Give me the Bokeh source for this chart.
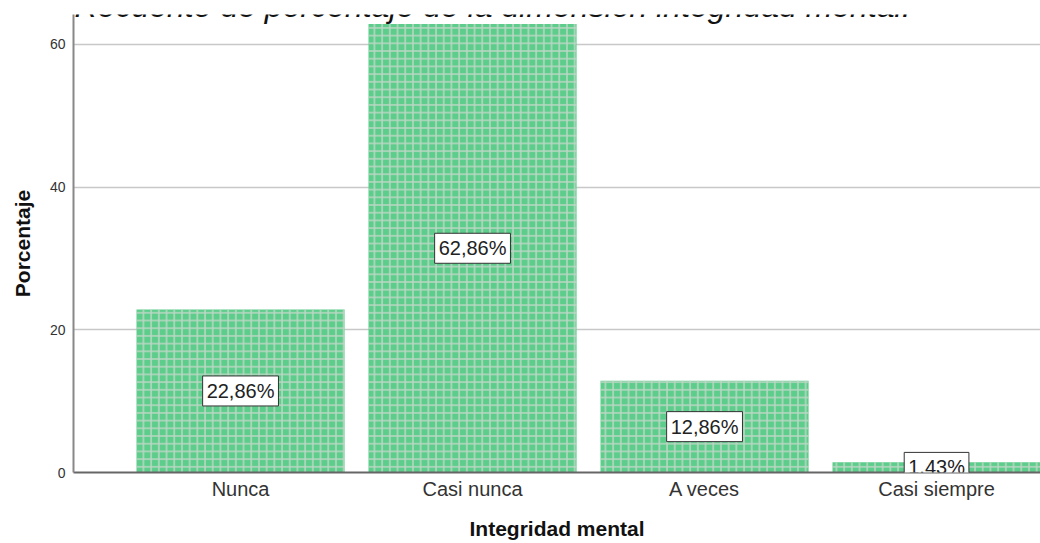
from bokeh.plotting import figure
from bokeh.models import ColumnDataSource, Range1d, FixedTicker, Label
from bokeh.embed import file_html
from bokeh.resources import INLINE

categories = ["Nunca", "Casi nunca", "A veces", "Casi siempre"]
percentages = [22.86, 62.86, 12.86, 1.43]
value_labels = ["22,86%", "62,86%", "12,86%", "1,43%"]
y_ticks = [0, 20, 40, 60]
title_text = "Recuento de porcentaje de la dimensión integridad mental."

FONT = "Liberation Sans"

xs = list(range(len(categories)))
src = ColumnDataSource(dict(x=xs, top=percentages))

p = figure(width=1040, height=543, output_backend="svg", toolbar_location=None,
           x_range=Range1d(-0.72, 3.448), y_range=Range1d(0, 64.2),
           min_border_left=73, min_border_right=0, min_border_top=14, min_border_bottom=71)
p.outline_line_color = None
p.background_fill_color = "white"

p.vbar(x="x", top="top", width=0.897, source=src,
       fill_color="#5dcd8b", line_color=None,
       hatch_pattern="+", hatch_color="#cdd8cf", hatch_scale=7.7, hatch_weight=1.5,
       hatch_alpha=0.85)

for xv, v, lab in zip(xs, percentages, value_labels):
    p.add_layout(Label(x=xv, y=v / 2, text=lab, text_align="center", text_baseline="middle",
                       text_font=FONT, text_font_size="20px", text_color="#222222",
                       background_fill_color="white", border_line_color="#333333",
                       border_line_width=1, padding=4))

p.add_layout(Label(x=74, y=5, x_units="canvas", y_units="canvas", text=title_text,
                   text_font=FONT, text_font_size="32px", text_font_style="italic",
                   text_color="#111111", text_baseline="alphabetic", level="overlay"))

p.xaxis.ticker = FixedTicker(ticks=xs)
p.xaxis.major_label_overrides = {i: c for i, c in zip(xs, categories)}
p.xaxis.major_label_text_font = FONT
p.xaxis.major_label_text_font_size = "20px"
p.xaxis.major_label_text_color = "#333333"
p.xaxis.major_tick_line_color = None
p.xaxis.major_tick_out = 0
p.xaxis.major_tick_in = 0
p.xaxis.minor_tick_line_color = None
p.xaxis.axis_line_color = "#666666"
p.xaxis.axis_line_width = 2
p.xaxis.axis_label = "Integridad mental"
p.xaxis.axis_label_text_font = FONT
p.xaxis.axis_label_text_font_style = "bold"
p.xaxis.axis_label_text_font_size = "21px"
p.xaxis.axis_label_text_color = "#111111"
p.xaxis.axis_label_standoff = 14
p.xaxis.major_label_standoff = 5

p.yaxis.ticker = FixedTicker(ticks=y_ticks)
p.yaxis.major_label_text_font = FONT
p.yaxis.major_label_text_font_size = "14px"
p.yaxis.major_label_text_color = "#333333"
p.yaxis.major_tick_line_color = None
p.yaxis.major_tick_out = 0
p.yaxis.major_tick_in = 0
p.yaxis.minor_tick_line_color = None
p.yaxis.axis_line_color = "#888888"
p.yaxis.axis_line_width = 2
p.yaxis.major_label_standoff = 8
p.yaxis.axis_label = "Porcentaje"
p.yaxis.axis_label_text_font = FONT
p.yaxis.axis_label_text_font_style = "bold"
p.yaxis.axis_label_text_font_size = "21px"
p.yaxis.axis_label_text_color = "#111111"
p.yaxis.axis_label_standoff = 13

p.xgrid.grid_line_color = None
p.ygrid.ticker = FixedTicker(ticks=y_ticks)
p.ygrid.grid_line_color = "#c8c8c8"
p.ygrid.grid_line_width = 1.5
p.ygrid.level = "underlay"

open("out.html", "w").write(file_html(p, INLINE))
